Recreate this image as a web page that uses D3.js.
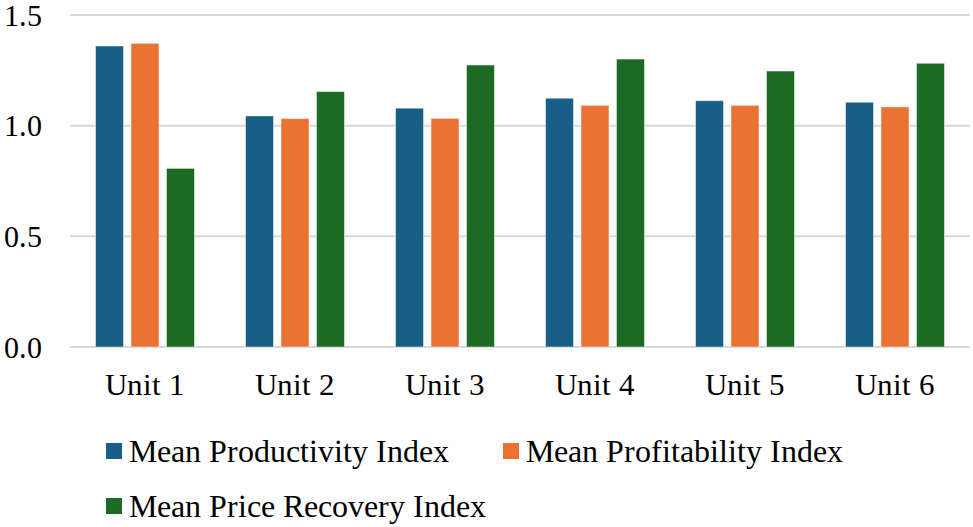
<!DOCTYPE html>
<html>
<head>
<meta charset="utf-8">
<script src="https://cdn.jsdelivr.net/npm/d3@7"></script>
<style>
  @font-face { font-family: "ChartSerif"; src: local("Liberation Serif"), local("LiberationSerif"), local("Times New Roman"); }
</style>
</head>
<body style="margin:0">
<div id="chart"></div>
<script>
var units = ["Unit 1", "Unit 2", "Unit 3", "Unit 4", "Unit 5", "Unit 6"]
var seriesNames = ["Mean Productivity Index", "Mean Profitability Index", "Mean Price Recovery Index"]
var productivity = [1.36, 1.044, 1.079, 1.124, 1.113, 1.106]
var profitability = [1.372, 1.032, 1.033, 1.092, 1.092, 1.085]
var priceRecovery = [0.807, 1.154, 1.274, 1.301, 1.247, 1.282]
var yTicks = [0, 0.5, 1.0, 1.5]
var colors = ["#175f84", "#ea7333", "#1b6b25"]

var width = 973, height = 527
var plot = {left: 70, right: 970, top: 15, bottom: 347}
var font = "ChartSerif, 'Liberation Serif', 'Times New Roman', serif"

var series = [productivity, profitability, priceRecovery]

var svg = d3.select("#chart").append("svg")
	.attr("width", width)
	.attr("height", height)

var x = d3.scaleBand()
	.domain(units)
	.range([plot.left, plot.right])

var xInner = d3.scaleBand()
	.domain(d3.range(series.length))
	.range([0, 99])
	.paddingInner(0.21)

var y = d3.scaleLinear()
	.domain([0, 1.5])
	.range([plot.bottom, plot.top])

// gridlines
svg.append("g").selectAll("line")
	.data(yTicks).enter()
	.append("line")
	.attr("x1", plot.left)
	.attr("x2", plot.right)
	.attr("y1", function(d){ return y(d) })
	.attr("y2", function(d){ return y(d) })
	.attr("stroke", "#d9d9d9")
	.attr("stroke-width", 2)

// y labels
svg.selectAll("text.ytick")
	.data(yTicks).enter()
	.append("text")
	.attr("class", "ytick")
	.attr("x", 42)
	.attr("y", function(d){ return y(d) + 10.5 })
	.attr("text-anchor", "end")
	.attr("font-size", 30)
	.style("font-family", font)
	.text(function(d){ return d3.format(".1f")(d) })

// bars
var groups = svg.append("g").selectAll("g")
	.data(units).enter()
	.append("g")
	.attr("transform", function(d){ return "translate(" + (x(d) + x.bandwidth()/2 - 49.5) + ",0)" })

groups.selectAll("rect")
	.data(function(d, i){ return series.map(function(s, k){ return {k: k, v: s[i]} }) })
	.enter()
	.append("rect")
	.attr("x", function(d){ return xInner(d.k) })
	.attr("width", xInner.bandwidth())
	.attr("y", function(d){ return y(d.v) })
	.attr("height", function(d){ return y(0) - y(d.v) })
	.attr("fill", function(d){ return colors[d.k] })
	.attr("stroke", "#fff")
	.attr("stroke-opacity", 0.5)
	.attr("stroke-width", 1)

// x labels
svg.selectAll("text.xlab")
	.data(units).enter()
	.append("text")
	.attr("class", "xlab")
	.attr("x", function(d){ return x(d) + x.bandwidth()/2 })
	.attr("y", 395)
	.attr("text-anchor", "middle")
	.attr("font-size", 31)
	.style("font-family", font)
	.text(function(d){ return d })

// legend
var legendPos = [[106, 451], [503, 451], [106, 506]]

svg.selectAll("rect.key")
	.data(seriesNames).enter()
	.append("rect")
	.attr("class", "key")
	.attr("x", function(d, i){ return legendPos[i][0] })
	.attr("y", function(d, i){ return legendPos[i][1] - 8 })
	.attr("width", 16)
	.attr("height", 16)
	.attr("fill", function(d, i){ return colors[i] })

svg.selectAll("text.key")
	.data(seriesNames).enter()
	.append("text")
	.attr("class", "key")
	.attr("x", function(d, i){ return legendPos[i][0] + 23 })
	.attr("y", function(d, i){ return legendPos[i][1] + 11 })
	.attr("font-size", 32)
	.style("font-family", font)
	.text(function(d){ return d })
</script>
</body>
</html>
